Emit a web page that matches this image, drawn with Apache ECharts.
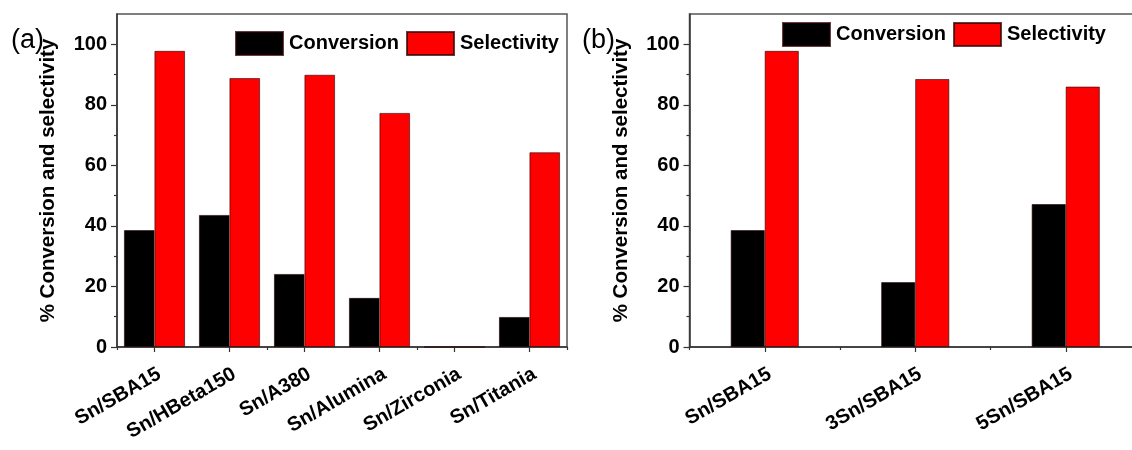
<!DOCTYPE html>
<html>
<head>
<meta charset="utf-8">
<script src="https://cdn.jsdelivr.net/npm/echarts@6/dist/echarts.min.js"></script>
<style>
html,body{margin:0;padding:0;background:#fff;}
#c{width:1132px;height:450px;}
</style>
</head>
<body>
<div id="c"></div>
<script>
// ---- data ----
const catsA = ['Sn/SBA15', 'Sn/HBeta150', 'Sn/A380', 'Sn/Alumina', 'Sn/Zirconia', 'Sn/Titania'];
const convA = [38.6, 43.6, 24.1, 16.2, 0, 9.9];
const selA  = [97.8, 88.8, 89.9, 77.3, 0, 64.3];

const catsB = ['Sn/SBA15', '3Sn/SBA15', '5Sn/SBA15'];
const convB = [38.6, 21.4, 47.2];
const selB  = [97.8, 88.5, 86.0];

const yTicks = [0, 20, 40, 60, 80, 100];
const yMinorTicks = [10, 30, 50, 70, 90];
const yMax = 110;
const yName = '% Conversion and selectivity';
const seriesNames = ['Conversion', 'Selectivity'];
const panelLabels = ['(a)', '(b)'];

// ---- chart ----
const FONT = '"Liberation Sans", Arial, sans-serif';
const AX = '#333';
const chart = echarts.init(document.getElementById('c'), null, {renderer: 'canvas'});

function mainX(gi, cats) {
  return {
    type: 'category', gridIndex: gi, data: cats, position: 'bottom',
    axisLine: {show: true, lineStyle: {color: AX, width: 1.5}},
    axisTick: {show: true, alignWithLabel: true, length: 5, lineStyle: {color: AX, width: 1.2}},
    axisLabel: {
      rotate: 30, margin: 17, align: 'right', verticalAlign: 'top', interval: 0,
      color: '#000', fontFamily: FONT, fontWeight: 'bold', fontSize: 20
    },
    splitLine: {show: false}
  };
}
function boundX(gi, cats) {
  return {
    type: 'category', gridIndex: gi, data: cats, position: 'bottom', offset: 0,
    axisLine: {show: false},
    axisTick: {show: true, alignWithLabel: false, length: 3, lineStyle: {color: AX, width: 1.2}},
    axisLabel: {show: false},
    splitLine: {show: false}
  };
}
function mainY(gi) {
  return {
    type: 'value', gridIndex: gi, min: 0, max: yMax, position: 'left',
    name: yName, nameLocation: 'middle', nameGap: 58, nameRotate: 90,
    nameTextStyle: {color: '#000', fontFamily: FONT, fontWeight: 'bold', fontSize: 20.5},
    axisLine: {show: true, lineStyle: {color: AX, width: 1.5}},
    axisTick: {show: true, length: 6, customValues: yTicks, lineStyle: {color: AX, width: 1.2}},
    axisLabel: {customValues: yTicks, margin: 10, color: '#000', fontFamily: FONT, fontWeight: 'bold', fontSize: 20},
    splitLine: {show: false}
  };
}
function minorY(gi) {
  return {
    type: 'value', gridIndex: gi, min: 0, max: yMax, position: 'left', offset: 0,
    axisLine: {show: false},
    axisTick: {show: true, length: 3, customValues: yMinorTicks, lineStyle: {color: AX, width: 1.2}},
    axisLabel: {show: false},
    splitLine: {show: false}
  };
}
function barSeries(name, data, xi, yi, gap, color) {
  return {
    type: 'bar', name: name, data: data, xAxisIndex: xi, yAxisIndex: yi,
    barGap: '0%', barCategoryGap: gap,
    itemStyle: {color: color, borderColor: 'rgba(40,0,0,0.75)', borderWidth: 0.8},
    emphasis: {disabled: true}
  };
}
function legend(left, top) {
  return {
    data: seriesNames, left: left, top: top, orient: 'horizontal', padding: 0,
    itemWidth: 47, itemHeight: 23, itemGap: 7, icon: 'rect',
    textStyle: {color: '#000', fontFamily: FONT, fontWeight: 'bold', fontSize: 20, padding: [0, 0, 0, 1]},
    selectedMode: false
  };
}

const option = {
  animation: false,
  backgroundColor: '#fff',
  grid: [
    {left: 117, top: 14, width: 450, height: 333, show: true, borderColor: '#555', borderWidth: 1.5,
     containLabel: false, outerBoundsMode: 'none'},
    {left: 689.5, top: 14, width: 451.5, height: 333, show: true, borderColor: '#555', borderWidth: 1.5,
     containLabel: false, outerBoundsMode: 'none'}
  ],
  xAxis: [mainX(0, catsA), boundX(0, catsA), mainX(1, catsB), boundX(1, catsB)],
  yAxis: [mainY(0), minorY(0), mainY(1), minorY(1)],
  legend: [legend(235, 31), legend(782, 22)],
  series: [
    barSeries(seriesNames[0], convA, 0, 0, '18.7%', '#000000'),
    barSeries(seriesNames[1], selA, 0, 0, '18.7%', '#ff0000'),
    barSeries(seriesNames[0], convB, 2, 2, '54.8%', '#000000'),
    barSeries(seriesNames[1], selB, 2, 2, '54.8%', '#ff0000')
  ],
  graphic: [
    {type: 'text', left: 11, top: 27, style: {text: panelLabels[0], fontFamily: FONT, fontSize: 27, fill: '#000'}},
    {type: 'text', left: 582, top: 27, style: {text: panelLabels[1], fontFamily: FONT, fontSize: 27, fill: '#000'}}
  ]
};
chart.setOption(option);
</script>
</body>
</html>
